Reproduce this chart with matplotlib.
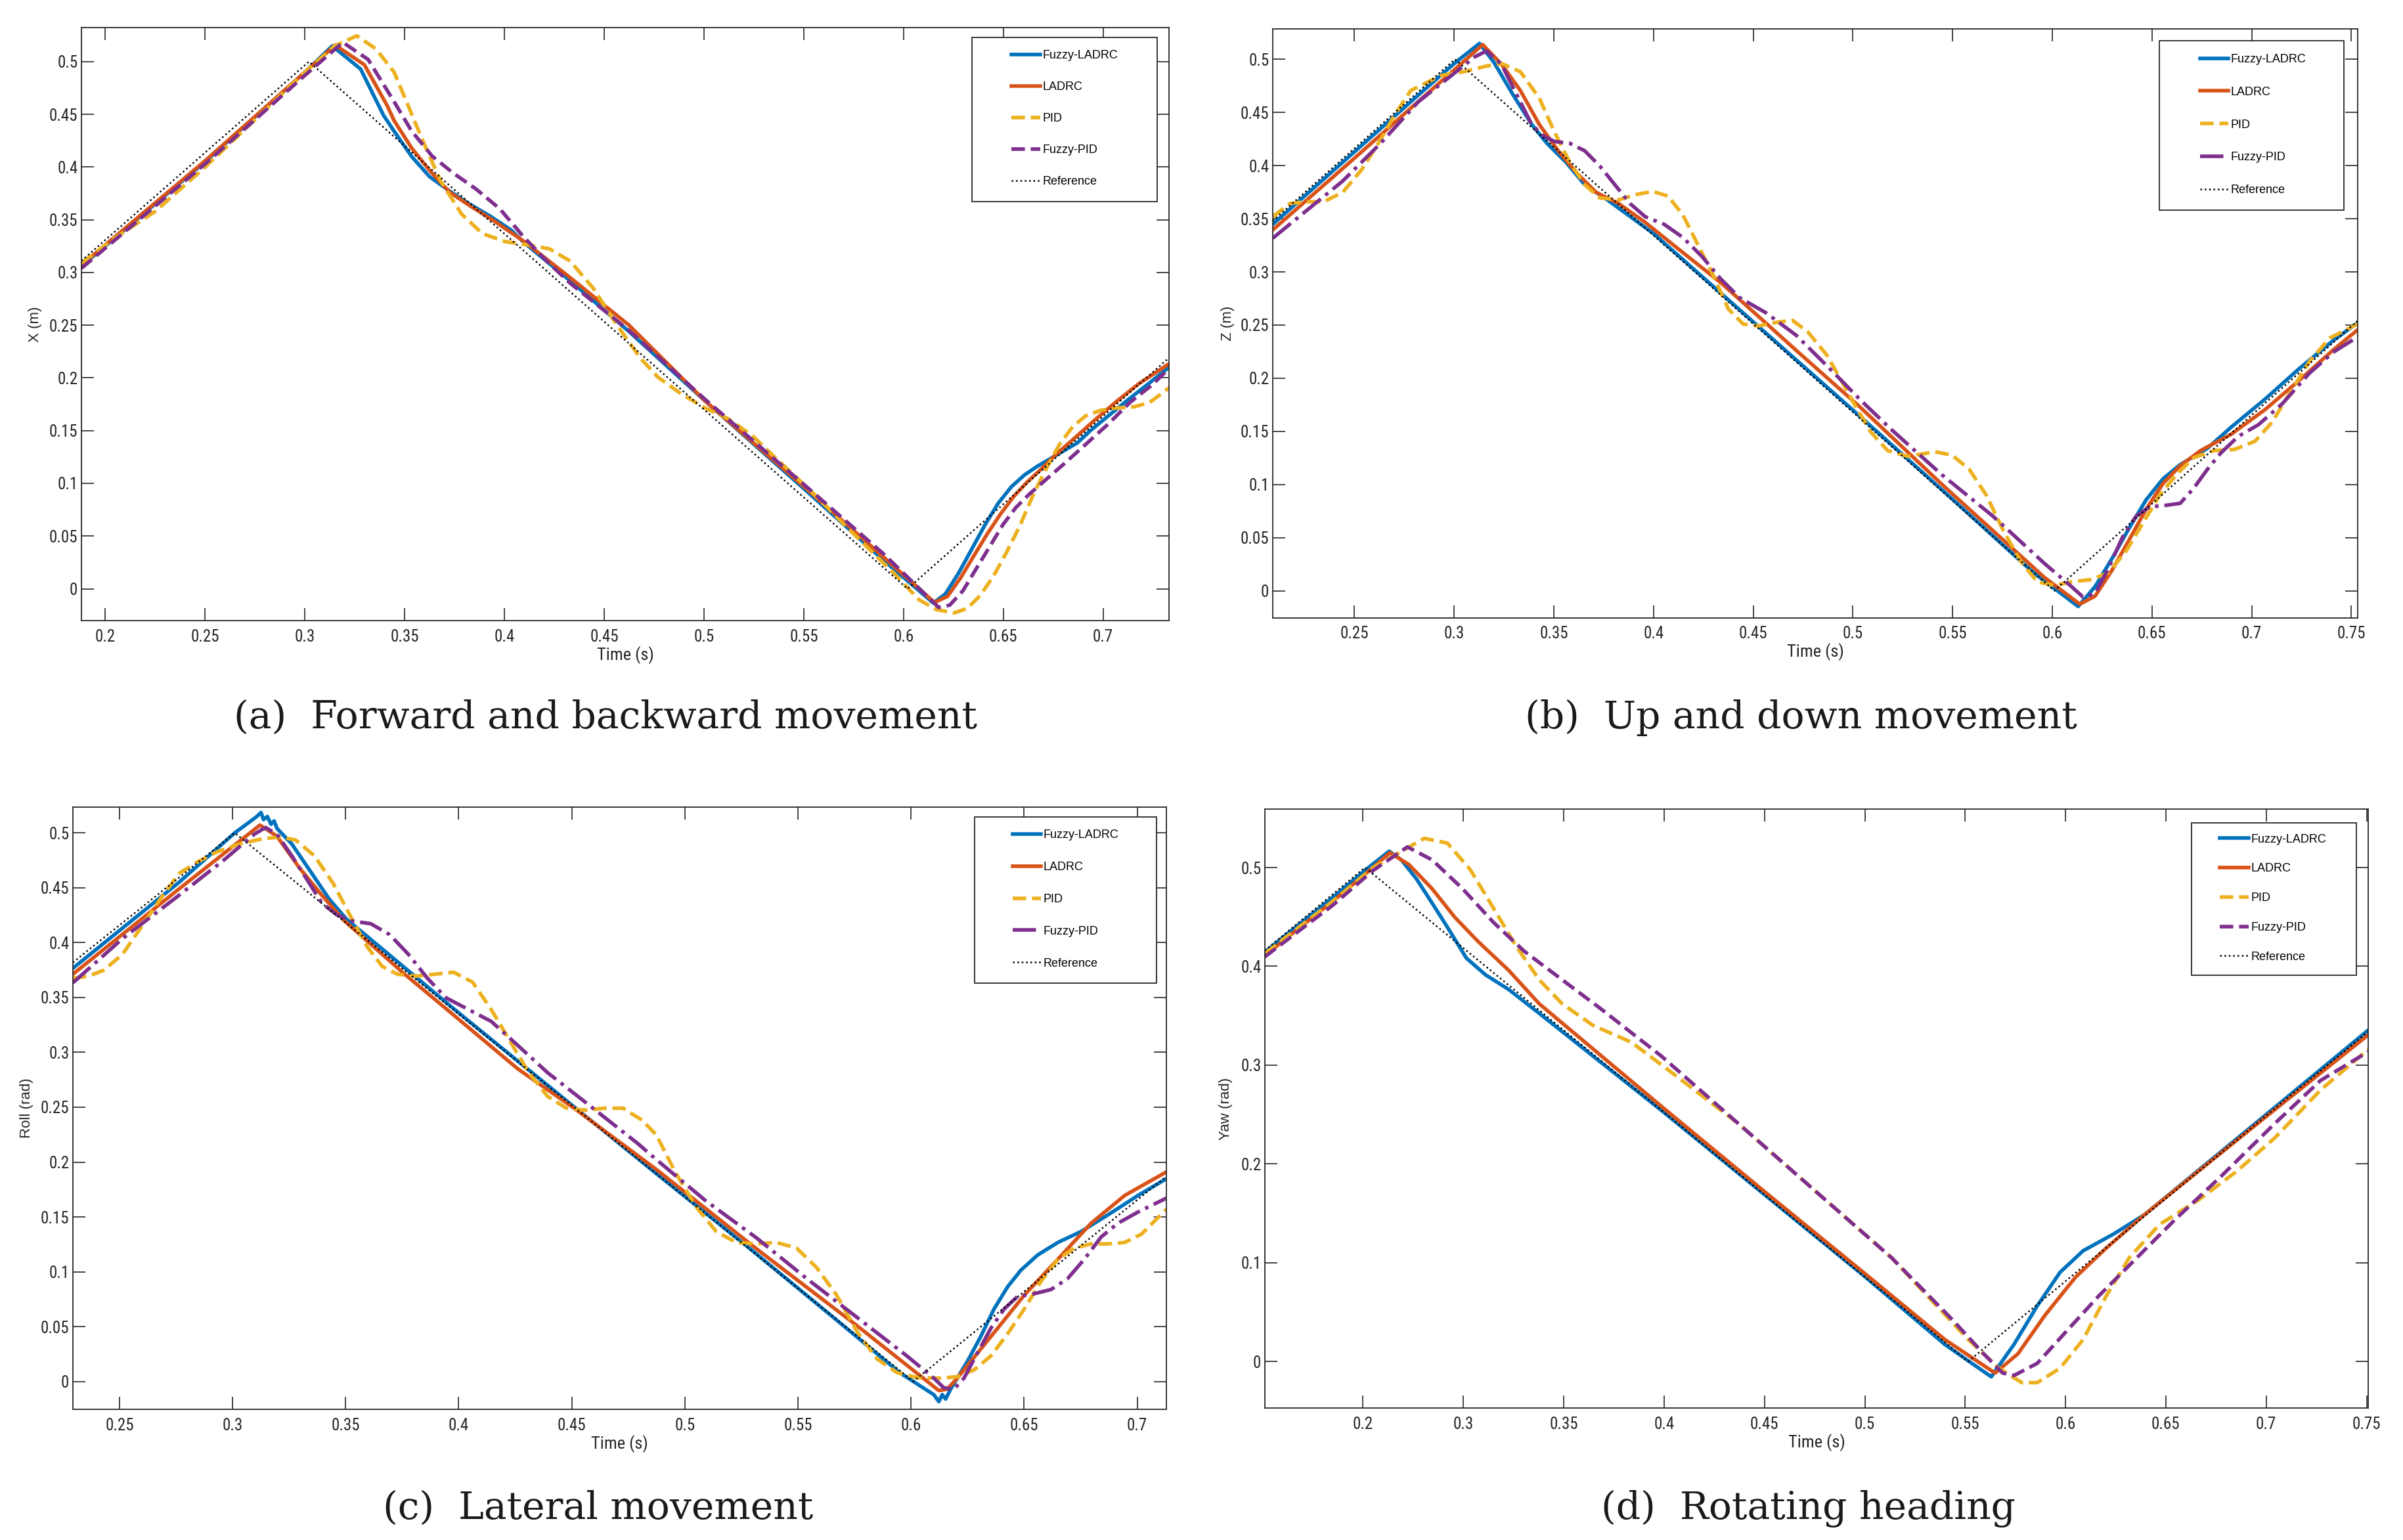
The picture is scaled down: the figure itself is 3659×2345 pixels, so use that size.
import matplotlib
matplotlib.use("Agg")
import matplotlib.pyplot as plt
from matplotlib import font_manager
from matplotlib.patches import Rectangle

# ---------------- data ----------------
LABELS = ["Fuzzy-LADRC", "LADRC", "PID", "Fuzzy-PID", "Reference"]
COLORS = ["#0072BD", "#D95319", "#EDB120", "#7E2F8E", "black"]

# (a) forward / backward, X (m)
a_ref_x = [0.188, 0.302, 0.602, 0.733]
a_ref_y = [0.311, 0.5, 0.0, 0.219]
a_fl_x = [0.188, 0.25, 0.30, 0.3137, 0.3279, 0.3394, 0.3447, 0.3535, 0.3624, 0.3719, 0.3815, 0.3932, 0.4035,
          0.4094, 0.433, 0.4624, 0.5006, 0.55, 0.59, 0.6149, 0.6209, 0.6275, 0.6341, 0.6407, 0.6474, 0.654,
          0.6606, 0.6672, 0.6738, 0.6804, 0.687, 0.6936, 0.7013, 0.7123, 0.7233, 0.7336]
a_fl_y = [0.306, 0.405, 0.490, 0.5149, 0.493, 0.449, 0.434, 0.410, 0.391, 0.378, 0.366, 0.353, 0.340,
          0.329, 0.292, 0.244, 0.178, 0.095, 0.027, -0.0135, -0.005, 0.0146, 0.0374, 0.0603, 0.0811, 0.0967,
          0.108, 0.1164, 0.1237, 0.131, 0.1383, 0.150, 0.162, 0.179, 0.1954, 0.211]
a_la_x = [0.188, 0.25, 0.30, 0.3152, 0.3298, 0.3413, 0.3447, 0.3535, 0.3624, 0.3726, 0.3829, 0.3947, 0.4094,
          0.433, 0.4624, 0.5006, 0.55, 0.59, 0.6154, 0.622, 0.6286, 0.6352, 0.6419, 0.6485, 0.6551, 0.6617,
          0.6683, 0.676, 0.6848, 0.6958, 0.7068, 0.7178, 0.7336]
a_la_y = [0.307, 0.406, 0.490, 0.5157, 0.497, 0.458, 0.444, 0.418, 0.397, 0.376, 0.363, 0.349, 0.330,
          0.295, 0.250, 0.178, 0.097, 0.030, -0.0129, -0.0073, 0.0104, 0.0312, 0.052, 0.0707, 0.0873, 0.1008,
          0.1123, 0.1268, 0.1414, 0.160, 0.1778, 0.1944, 0.2141]
a_pid_x = [0.188, 0.205, 0.225, 0.25, 0.275, 0.30, 0.315, 0.326, 0.3356, 0.3447, 0.3594, 0.368, 0.3785,
           0.3889, 0.4006, 0.411, 0.4226, 0.433, 0.4447, 0.4563, 0.468, 0.477, 0.4887, 0.5004, 0.5123, 0.524,
           0.5357, 0.555, 0.575, 0.595, 0.6077, 0.6165, 0.6253, 0.6319, 0.6385, 0.6452, 0.6518, 0.6584, 0.665,
           0.6716, 0.6782, 0.6848, 0.6914, 0.6991, 0.7068, 0.7156, 0.7233, 0.7336]
a_pid_y = [0.309, 0.333, 0.358, 0.400, 0.445, 0.490, 0.515, 0.5245, 0.512, 0.490, 0.4235, 0.3867, 0.3554,
           0.3369, 0.3292, 0.3264, 0.3224, 0.3107, 0.2845, 0.2503, 0.219, 0.2005, 0.1847, 0.1716, 0.161, 0.1455,
           0.1244, 0.090, 0.052, 0.015, -0.0104, -0.0198, -0.0229, -0.0187, -0.0062, 0.0125, 0.0353, 0.0603,
           0.0894, 0.1143, 0.1372, 0.1538, 0.1642, 0.1694, 0.1715, 0.1726, 0.1767, 0.1913]
a_fp_x = [0.188, 0.25, 0.30, 0.319, 0.3317, 0.3447, 0.3535, 0.3638, 0.3741, 0.3859, 0.3976, 0.4094, 0.4212,
          0.433, 0.4624, 0.5006, 0.55, 0.59, 0.6176, 0.6231, 0.6297, 0.6363, 0.643, 0.6496, 0.6562, 0.6628,
          0.6716, 0.6804, 0.6914, 0.7024, 0.7134, 0.7245, 0.7336]
a_fp_y = [0.304, 0.403, 0.487, 0.5183, 0.502, 0.462, 0.434, 0.4103, 0.3946, 0.3789, 0.3605, 0.3342, 0.3107,
          0.2897, 0.2451, 0.1795, 0.099, 0.033, -0.0177, -0.0156, -0.002, 0.0187, 0.0395, 0.0603, 0.0769,
          0.0894, 0.104, 0.1185, 0.1372, 0.156, 0.1767, 0.1933, 0.21]

# (b) up / down, Z (m)
b_ref_x = [0.209, 0.3004, 0.601, 0.7532]
b_ref_y = [0.348, 0.5, 0.0, 0.254]
b_fl_x = [0.209, 0.25, 0.28, 0.30, 0.3127, 0.32, 0.3294, 0.3389, 0.3465, 0.356, 0.3655, 0.3768, 0.40, 0.45,
          0.50, 0.55, 0.59, 0.613, 0.6215, 0.63, 0.6386, 0.6471, 0.6556, 0.6642, 0.6778, 0.6898, 0.7068,
          0.7239, 0.741, 0.7532]
b_fl_y = [0.3448, 0.413, 0.463, 0.496, 0.5149, 0.497, 0.467, 0.4387, 0.421, 0.4033, 0.382, 0.3678, 0.336,
          0.253, 0.170, 0.086, 0.018, -0.0148, 0.004, 0.0304, 0.0591, 0.0856, 0.1054, 0.1187, 0.134, 0.154,
          0.1804, 0.209, 0.2356, 0.2521]
b_la_x = [0.209, 0.25, 0.28, 0.30, 0.3143, 0.3237, 0.3332, 0.3427, 0.3522, 0.3617, 0.3711, 0.3825, 0.3958,
          0.4147, 0.4337, 0.4527, 0.4716, 0.5035, 0.5447, 0.5959, 0.6138, 0.6215, 0.63, 0.6386, 0.6471, 0.6556,
          0.6642, 0.6744, 0.6898, 0.7068, 0.7239, 0.741, 0.7532]
b_la_y = [0.3395, 0.407, 0.457, 0.490, 0.5138, 0.4954, 0.4706, 0.4387, 0.4139, 0.3926, 0.3749, 0.3643, 0.3466,
          0.3182, 0.2899, 0.258, 0.2261, 0.173, 0.100, 0.0128, -0.0126, -0.005, 0.0194, 0.048, 0.0768, 0.101,
          0.1176, 0.1319, 0.1473, 0.1705, 0.198, 0.2267, 0.2455]
b_pid_x = [0.209, 0.2176, 0.2252, 0.2346, 0.2441, 0.2536, 0.2631, 0.2707, 0.2782, 0.2858, 0.2934, 0.3048,
           0.3162, 0.3237, 0.3332, 0.3427, 0.3503, 0.3579, 0.3655, 0.373, 0.3825, 0.392, 0.3996, 0.4072, 0.4147,
           0.4223, 0.4299, 0.4375, 0.445, 0.4527, 0.4621, 0.4697, 0.4773, 0.4868, 0.4935, 0.5003, 0.5089,
           0.5174, 0.5276, 0.5413, 0.5498, 0.5584, 0.5669, 0.5754, 0.584, 0.5925, 0.601, 0.6096, 0.6198,
           0.6283, 0.6369, 0.6454, 0.6539, 0.6625, 0.671, 0.6812, 0.6915, 0.7017, 0.7102, 0.7188, 0.729,
           0.7392, 0.7532]
b_pid_y = [0.3519, 0.3643, 0.366, 0.366, 0.3749, 0.3962, 0.4245, 0.4493, 0.4706, 0.4777, 0.4848, 0.4883,
           0.4936, 0.4961, 0.4883, 0.4635, 0.4316, 0.4033, 0.382, 0.3696, 0.3678, 0.3731, 0.3756, 0.3714,
           0.3537, 0.3253, 0.297, 0.2651, 0.2509, 0.2491, 0.2527, 0.2544, 0.2438, 0.222, 0.200, 0.177, 0.1495,
           0.1319, 0.1264, 0.1308, 0.1275, 0.1142, 0.09, 0.0569, 0.0282, 0.0084, 0.0051, 0.0084, 0.0106,
           0.0172, 0.037, 0.0635, 0.09, 0.1098, 0.1253, 0.1319, 0.133, 0.1407, 0.1584, 0.1848, 0.2157,
           0.2378, 0.251]
b_fp_x = [0.209, 0.2441, 0.2631, 0.282, 0.301, 0.3105, 0.3162, 0.3237, 0.3313, 0.3389, 0.3446, 0.3503,
          0.3579, 0.3655, 0.373, 0.3806, 0.3882, 0.3958, 0.4053, 0.4147, 0.4242, 0.4337, 0.4432, 0.4564,
          0.4716, 0.4906, 0.5035, 0.5191, 0.5447, 0.5703, 0.5959, 0.6096, 0.6155, 0.6215, 0.6283, 0.6352,
          0.642, 0.6488, 0.6556, 0.6642, 0.671, 0.6778, 0.6846, 0.6932, 0.7034, 0.7154, 0.729, 0.741, 0.7532]
b_fp_y = [0.3317, 0.3855, 0.421, 0.46, 0.4883, 0.5025, 0.5078, 0.4954, 0.467, 0.4387, 0.428, 0.4227, 0.421,
          0.4139, 0.3997, 0.382, 0.3643, 0.3519, 0.3448, 0.3324, 0.3147, 0.2934, 0.2757, 0.2615, 0.2403,
          0.2048, 0.18, 0.152, 0.109, 0.0701, 0.026, 0.004, -0.006, -0.0026, 0.0216, 0.0503, 0.0701, 0.079,
          0.08, 0.0823, 0.0966, 0.1142, 0.1297, 0.1451, 0.1562, 0.176, 0.2047, 0.2245, 0.2389]

# (c) lateral, Roll (rad)
c_ref_x = [0.2294, 0.301, 0.601, 0.7129]
c_ref_y = [0.382, 0.5, 0.0, 0.187]
c_fl_x = [0.2294, 0.2763, 0.3009, 0.3104, 0.3126, 0.3137, 0.3154, 0.317, 0.3184, 0.3196, 0.3262, 0.3345,
          0.3428, 0.3503, 0.40, 0.45, 0.4871, 0.53, 0.57, 0.595, 0.6101, 0.6123, 0.6138, 0.6153, 0.6175,
          0.6204, 0.6249, 0.6308, 0.6367, 0.6427, 0.6486, 0.656, 0.6649, 0.6753, 0.6871, 0.7004, 0.7129]
c_fl_y = [0.3767, 0.455, 0.500, 0.5145, 0.5187, 0.5122, 0.515, 0.508, 0.511, 0.5043, 0.49, 0.4648, 0.4396,
          0.4216, 0.336, 0.252, 0.19, 0.119, 0.051, 0.008, -0.0121, -0.0184, -0.012, -0.016, -0.007, 0.003,
          0.0182, 0.0409, 0.0661, 0.0863, 0.1015, 0.1153, 0.1267, 0.1368, 0.1519, 0.1696, 0.1848]
c_la_x = [0.2294, 0.2763, 0.3121, 0.3196, 0.3295, 0.3395, 0.3495, 0.3761, 0.3928, 0.4261, 0.451, 0.4873,
          0.5316, 0.576, 0.6123, 0.616, 0.6204, 0.6353, 0.6501, 0.665, 0.6797, 0.6945, 0.7129]
c_la_y = [0.3713, 0.449, 0.5072, 0.4971, 0.4684, 0.4432, 0.4198, 0.3713, 0.3426, 0.285, 0.2491, 0.1934,
          0.121, 0.051, -0.0083, -0.007, 0.003, 0.0409, 0.0787, 0.1116, 0.1444, 0.1696, 0.191]
c_pid_x = [0.2294, 0.2364, 0.243, 0.2513, 0.2597, 0.268, 0.2763, 0.2846, 0.293, 0.3029, 0.3129, 0.3212,
           0.3279, 0.3362, 0.3445, 0.3528, 0.3595, 0.3661, 0.3728, 0.3811, 0.3894, 0.3977, 0.4061, 0.4144,
           0.4227, 0.431, 0.4393, 0.4477, 0.456, 0.4643, 0.4727, 0.481, 0.4873, 0.496, 0.5049, 0.5138, 0.5227,
           0.5316, 0.5404, 0.5493, 0.5582, 0.5671, 0.576, 0.5849, 0.5938, 0.6027, 0.613, 0.6204, 0.6279,
           0.6353, 0.6427, 0.6501, 0.6575, 0.665, 0.6724, 0.6797, 0.6871, 0.6945, 0.7019, 0.7129]
c_pid_y = [0.3677, 0.3695, 0.3749, 0.3893, 0.4145, 0.4396, 0.463, 0.4738, 0.4827, 0.4899, 0.4946, 0.4964,
           0.4935, 0.4792, 0.454, 0.4216, 0.3965, 0.3785, 0.3713, 0.3695, 0.3713, 0.3731, 0.3641, 0.339,
           0.3102, 0.2815, 0.2599, 0.2491, 0.2473, 0.2491, 0.2491, 0.2383, 0.225, 0.1898, 0.1595, 0.1368,
           0.1267, 0.1254, 0.1267, 0.1217, 0.104, 0.0787, 0.0459, 0.0207, 0.0081, 0.0035, 0.003, 0.0043,
           0.0106, 0.0232, 0.0434, 0.0661, 0.0914, 0.1116, 0.1217, 0.1254, 0.1254, 0.1267, 0.1343, 0.157]
c_fp_x = [0.2294, 0.2513, 0.2763, 0.2963, 0.3096, 0.3146, 0.3196, 0.3262, 0.3329, 0.3395, 0.3462, 0.3528,
          0.3611, 0.3695, 0.3778, 0.3861, 0.3944, 0.4044, 0.4144, 0.426, 0.4393, 0.4527, 0.466, 0.4793, 0.4873,
          0.5093, 0.5316, 0.5538, 0.576, 0.5982, 0.6101, 0.6145, 0.619, 0.6234, 0.6293, 0.6353, 0.6412, 0.6471,
          0.6545, 0.6619, 0.6693, 0.6767, 0.6841, 0.6916, 0.7004, 0.7129]
c_fp_y = [0.3634, 0.4037, 0.4432, 0.4756, 0.4989, 0.505, 0.4989, 0.4792, 0.4576, 0.436, 0.4252, 0.4198,
          0.4173, 0.4073, 0.3893, 0.3677, 0.3497, 0.339, 0.3282, 0.3066, 0.2815, 0.2599, 0.2383, 0.2167,
          0.2024, 0.1646, 0.131, 0.0939, 0.0586, 0.0232, 0.003, -0.0058, -0.007, 0.003, 0.0257, 0.0485, 0.0661,
          0.0775, 0.08, 0.0838, 0.0939, 0.1116, 0.1318, 0.1444, 0.1545, 0.1671]

# (d) heading, Yaw (rad)
d_ref_x = [0.2011, 0.251, 0.5515, 0.7508]
d_ref_y = [0.416, 0.5, 0.0, 0.334]
d_fl_x = [0.2011, 0.235, 0.2515, 0.263, 0.2691, 0.2767, 0.2844, 0.292, 0.3015, 0.3111, 0.3225, 0.3378, 0.40,
          0.45, 0.50, 0.54, 0.563, 0.5744, 0.5859, 0.5973, 0.6088, 0.624, 0.6393, 0.70, 0.7508]
d_fl_y = [0.4146, 0.470, 0.498, 0.5165, 0.5078, 0.4883, 0.4641, 0.4398, 0.4083, 0.3913, 0.3767, 0.3524, 0.252,
          0.169, 0.086, 0.017, -0.0155, 0.0175, 0.0563, 0.0903, 0.1121, 0.1291, 0.1485, 0.25, 0.3354]
d_la_x = [0.2011, 0.235, 0.2515, 0.2634, 0.2729, 0.2844, 0.2958, 0.3073, 0.3225, 0.3378, 0.40, 0.45, 0.50,
          0.54, 0.5649, 0.5763, 0.5897, 0.605, 0.6202, 0.6393, 0.70, 0.7508]
d_la_y = [0.411, 0.466, 0.494, 0.515, 0.503, 0.4786, 0.4495, 0.4252, 0.3961, 0.3621, 0.256, 0.172, 0.089,
          0.022, -0.0117, 0.0078, 0.0466, 0.0854, 0.1146, 0.1485, 0.248, 0.3306]
d_pid_x = [0.2011, 0.235, 0.255, 0.2805, 0.292, 0.3034, 0.3149, 0.3263, 0.3378, 0.3492, 0.3645, 0.3836,
           0.4027, 0.437, 0.4752, 0.5134, 0.5515, 0.5668, 0.5782, 0.5859, 0.5973, 0.6088, 0.6202, 0.6317,
           0.6469, 0.666, 0.6851, 0.7042, 0.7271, 0.7508]
d_pid_y = [0.4131, 0.466, 0.50, 0.5296, 0.5248, 0.498, 0.4592, 0.4204, 0.3864, 0.3621, 0.3403, 0.3233,
           0.2942, 0.2408, 0.1728, 0.1049, 0.0223, -0.0068, -0.0214, -0.0214, -0.0068, 0.0223, 0.066, 0.1049,
           0.1388, 0.1631, 0.1922, 0.2262, 0.2748, 0.316]
d_fp_x = [0.2011, 0.235, 0.255, 0.2721, 0.2844, 0.2996, 0.3149, 0.3302, 0.3492, 0.3683, 0.3989, 0.437,
          0.4752, 0.5134, 0.5439, 0.5592, 0.5687, 0.5744, 0.5859, 0.6011, 0.6164, 0.6355, 0.6546, 0.6775,
          0.7042, 0.7271, 0.7508]
d_fp_y = [0.4097, 0.462, 0.497, 0.5209, 0.5078, 0.4786, 0.4447, 0.4155, 0.3864, 0.3573, 0.3087, 0.2408,
          0.1728, 0.1049, 0.0417, 0.0078, -0.0117, -0.0141, -0.0019, 0.032, 0.066, 0.1049, 0.1437, 0.1874,
          0.2408, 0.2845, 0.3136]

# axis ticks
a_xticks = [0.2, 0.25, 0.3, 0.35, 0.4, 0.45, 0.5, 0.55, 0.6, 0.65, 0.7]
b_xticks = [0.25, 0.3, 0.35, 0.4, 0.45, 0.5, 0.55, 0.6, 0.65, 0.7, 0.75]
c_xticks = [0.25, 0.3, 0.35, 0.4, 0.45, 0.5, 0.55, 0.6, 0.65, 0.7]
d_xticks = [0.25, 0.3, 0.35, 0.4, 0.45, 0.5, 0.55, 0.6, 0.65, 0.7, 0.75]
d_xticklabels = ["0.2", "0.3", "0.35", "0.4", "0.45", "0.5", "0.55", "0.6", "0.65", "0.7", "0.75"]
fine_yticks = [0, 0.05, 0.1, 0.15, 0.2, 0.25, 0.3, 0.35, 0.4, 0.45, 0.5]
d_yticks = [0, 0.1, 0.2, 0.3, 0.4, 0.5]

# ---------------- fonts ----------------
avail = {f.name for f in font_manager.fontManager.ttflist}
NARROW = next((n for n in ["Liberation Sans Narrow", "DejaVu Sans Condensed", "Roboto Condensed"]
               if n in avail), "Liberation Sans")
SANS = "Liberation Sans"
SERIF = "DejaVu Serif"
AX_COL = "#262626"

W, H = 3659, 2345
fig = plt.figure(figsize=(W / 100, H / 100), dpi=100)


def px_rect(l, t, r, b):
    return [l / W, 1 - b / H, (r - l) / W, (b - t) / H]


def draw_panel(rect_px, series, ref, xlim, ylim, xticks, yticks, ylabel, ylab_x,
               leg_box, leg_first, leg_pitch, leg_hx, fp_style, xticklabels=None):
    ax = fig.add_axes(px_rect(*rect_px))
    styles = ["-", "-", "--", fp_style]
    handles = []
    for (xs, ys), lab, col, ls in zip(series, LABELS[:4], COLORS[:4], styles):
        h, = ax.plot(xs, ys, color=col, lw=4.0, ls=ls, label=lab)
        handles.append(h)
    h, = ax.plot(ref[0], ref[1], color="black", lw=1.8, ls=":", label="Reference")
    handles.append(h)

    ax.set_xlim(*xlim)
    ax.set_ylim(*ylim)
    ax.set_xticks(xticks)
    if xticklabels is None:
        xticklabels = [f"{v:g}" for v in xticks]
    ax.set_xticklabels(xticklabels, fontfamily=NARROW, fontsize=18, color=AX_COL)
    ax.set_yticks(yticks)
    ax.set_yticklabels([f"{v:g}" for v in yticks], fontfamily=NARROW, fontsize=18, color=AX_COL)
    ax.tick_params(direction="in", top=True, right=True, length=14, width=1.2, color=AX_COL)
    ax.tick_params(axis="x", pad=9)
    ax.tick_params(axis="y", pad=4)
    for sp in ax.spines.values():
        sp.set_color(AX_COL)
        sp.set_linewidth(1.3)

    ax.set_xlabel("Time (s)", fontfamily=NARROW, fontsize=19, color=AX_COL)
    ax.xaxis.set_label_coords(0.5, -0.043)
    ax.set_ylabel(ylabel, fontfamily=SANS, fontsize=16, color=AX_COL)
    ax.yaxis.set_label_coords(ylab_x, 0.5)

    # legend: framed box with wide padding like the MATLAB export
    wpx = rect_px[2] - rect_px[0]
    hpx = rect_px[3] - rect_px[1]
    x0, y0, x1, y1 = leg_box
    ax.add_patch(Rectangle((x0, y0), x1 - x0, y1 - y0, transform=ax.transAxes, facecolor="white",
                           edgecolor=AX_COL, lw=1.3, zorder=5, clip_on=False))
    spacing = (leg_pitch - 17.3) / 18.0
    leg = ax.legend(handles=handles, loc="upper left",
                    bbox_to_anchor=(x0 + leg_hx / wpx, y1 - (leg_first - 11) / hpx),
                    frameon=False, borderpad=0, borderaxespad=0, handlelength=2.4,
                    handletextpad=0.2, labelspacing=spacing,
                    prop={"family": SANS, "size": 13})
    leg.set_zorder(6)
    return ax


draw_panel((124, 42, 1780, 945),
           [(a_fl_x, a_fl_y), (a_la_x, a_la_y), (a_pid_x, a_pid_y), (a_fp_x, a_fp_y)],
           (a_ref_x, a_ref_y), (0.188, 0.733), (-0.0302, 0.5323), a_xticks, fine_yticks,
           "X (m)", -0.036, (0.819, 0.707, 0.989, 0.983), 29.5, 48.3, 60, "--")

draw_panel((1938, 44, 3590, 941),
           [(b_fl_x, b_fl_y), (b_la_x, b_la_y), (b_pid_x, b_pid_y), (b_fp_x, b_fp_y)],
           (b_ref_x, b_ref_y), (0.209, 0.7532), (-0.0256, 0.5286), b_xticks, fine_yticks,
           "Z (m)", -0.035, (0.817, 0.692, 0.987, 0.980), 31, 50, 62, "-.")

draw_panel((111, 1229, 1776, 2146),
           [(c_fl_x, c_fl_y), (c_la_x, c_la_y), (c_pid_x, c_pid_y), (c_fp_x, c_fp_y)],
           (c_ref_x, c_ref_y), (0.2294, 0.7129), (-0.0254, 0.5236), c_xticks, fine_yticks,
           "Roll (rad)", -0.036, (0.8246, 0.708, 0.991, 0.984), 30.7, 49, 58, "-.")

draw_panel((1926, 1232, 3606, 2144),
           [(d_fl_x, d_fl_y), (d_la_x, d_la_y), (d_pid_x, d_pid_y), (d_fp_x, d_fp_y)],
           (d_ref_x, d_ref_y), (0.2011, 0.7508), (-0.0471, 0.5592), d_xticks, d_yticks,
           "Yaw (rad)", -0.029, (0.84, 0.723, 0.989, 0.977), 27.7, 45, 43, "--",
           xticklabels=d_xticklabels)

# sub-figure captions
captions = ["(a)  Forward and backward movement", "(b)  Up and down movement",
            "(c)  Lateral movement", "(d)  Rotating heading"]
cap_pos = [(922, 1093), (2742, 1093), (911, 2297), (2754, 2297)]
for txt, (cx, cy) in zip(captions, cap_pos):
    fig.text(cx / W, 1 - cy / H, txt, ha="center", va="center", fontfamily=SERIF, fontsize=42,
             color="#1a1a1a")

fig.savefig("out.png", dpi=100, facecolor="white")
